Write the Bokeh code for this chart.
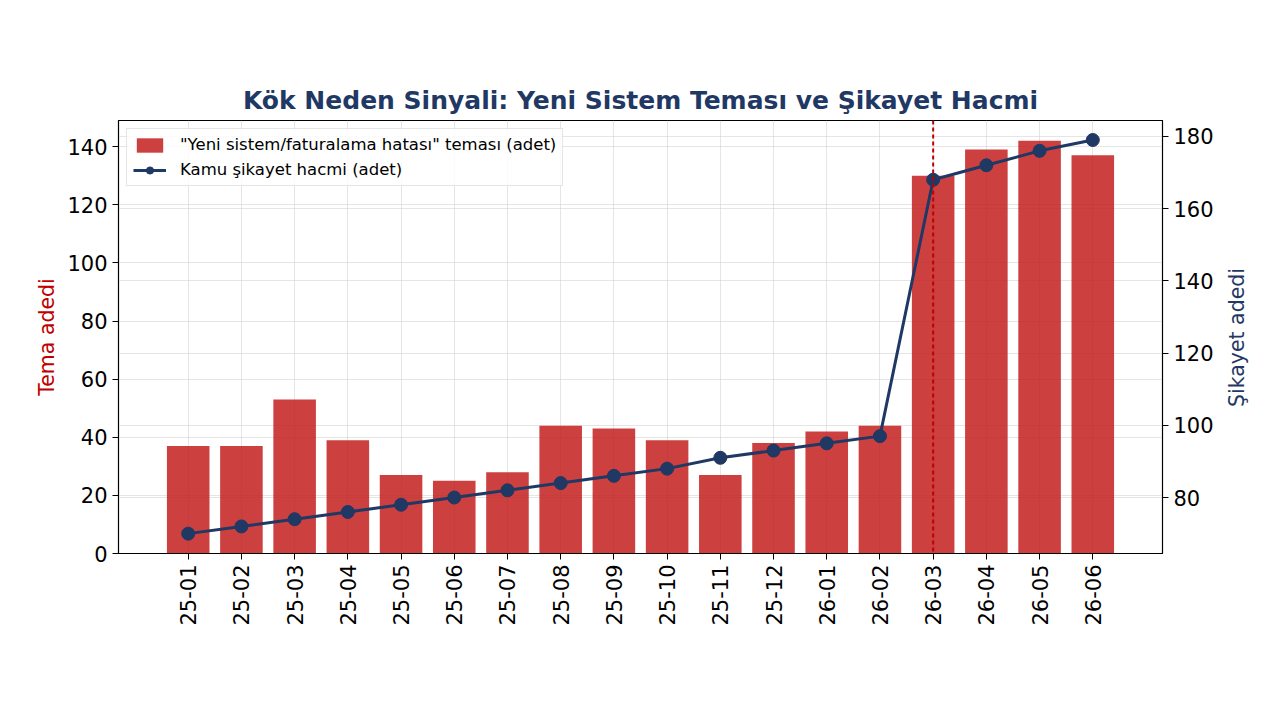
from bokeh.plotting import figure
from bokeh.layouts import row
from bokeh.models import (FactorRange, Range1d, LinearAxis, SingleIntervalTicker, Grid,
                          Legend, LegendItem, Span, ColumnDataSource, Div)
from bokeh.embed import file_html
from bokeh.resources import INLINE

months = ["25-01", "25-02", "25-03", "25-04", "25-05", "25-06", "25-07", "25-08", "25-09",
          "25-10", "25-11", "25-12", "26-01", "26-02", "26-03", "26-04", "26-05", "26-06"]
tema = [37, 37, 53, 39, 27, 25, 28, 44, 43, 39, 27, 38, 42, 44, 130, 139, 142, 137]
sikayet = [70, 72, 74, 76, 78, 80, 82, 84, 86, 88, 91, 93, 95, 97, 168, 172, 176, 179]
marker_month = "26-03"

FONT = "DejaVu Sans"
NAVY = "#1f3864"
RED = "#c41e1e"

src = ColumnDataSource(dict(m=months, tema=tema, sik=sikayet))

p = figure(width=1220, height=720, output_backend="svg", toolbar_location=None,
           x_range=FactorRange(factors=months, range_padding=0.09),
           y_range=Range1d(0, 149),
           min_border_left=118, min_border_right=58, min_border_top=120, min_border_bottom=167)
p.extra_y_ranges = {"right": Range1d(64.5, 184.4)}

p.title.text = "Kök Neden Sinyali: Yeni Sistem Teması ve Şikayet Hacmi"
p.title.align = "center"
p.title.text_font = FONT
p.title.text_font_size = "25px"
p.title.text_font_style = "bold"
p.title.text_color = NAVY
p.title.standoff = 11

p.outline_line_color = "black"
p.outline_line_width = 1.2

bars = p.vbar(x="m", top="tema", width=0.8, source=src, fill_color=RED, fill_alpha=0.85,
              line_color=None)
ln = p.line(x="m", y="sik", source=src, y_range_name="right", line_color=NAVY, line_width=3)
pts = p.scatter(x="m", y="sik", source=src, y_range_name="right", size=13, fill_color=NAVY,
                line_color=NAVY)

span = Span(location=months.index(marker_month) + 0.5, dimension="height", line_color="#c00000",
            line_dash="4 3", line_width=2)
p.add_layout(span)

la = p.yaxis[0]
la.ticker = SingleIntervalTicker(interval=20)
la.axis_label = "Tema adedi"
la.axis_label_text_color = "#c00000"

ra = LinearAxis(y_range_name="right", ticker=SingleIntervalTicker(interval=20))
p.add_layout(ra, "right")

for ax in [la, ra, p.xaxis[0]]:
    ax.major_label_text_font = FONT
    ax.major_label_text_font_size = "21px"
    ax.major_label_text_color = "black"
    ax.axis_label_text_font = FONT
    ax.axis_label_text_font_size = "20.5px"
    ax.axis_label_text_font_style = "normal"
    ax.minor_tick_line_color = None
    ax.major_tick_out = 6
    ax.major_tick_in = 0
    ax.axis_line_color = "black"
    ax.major_tick_line_color = "black"
    ax.major_label_standoff = 5

p.xaxis.major_label_orientation = 1.5708

p.xgrid.grid_line_color = "#d0d0d0"
p.xgrid.grid_line_alpha = 0.55
p.ygrid.grid_line_color = "#d0d0d0"
p.ygrid.grid_line_alpha = 0.55
g2 = Grid(dimension=1, ticker=ra.ticker, y_range_name="right", grid_line_color="#d0d0d0",
          grid_line_alpha=0.55)
p.add_layout(g2)

legend = Legend(items=[
    LegendItem(label='"Yeni sistem/faturalama hatası" teması (adet)', renderers=[bars]),
    LegendItem(label="Kamu şikayet hacmi (adet)", renderers=[ln, pts]),
], location="top_left")
legend.label_text_font = FONT
legend.label_text_font_size = "16.5px"
legend.label_text_color = "black"
legend.border_line_color = "#cccccc"
legend.border_line_width = 1.2
legend.background_fill_alpha = 0.85
legend.glyph_width = 33
legend.glyph_height = 18
legend.spacing = 6
legend.padding = 6
legend.margin = 8
legend.label_standoff = 14
p.add_layout(legend)

# right axis title, reading bottom-to-top
right_title = Div(
    text=('<div style="width:60px;height:720px;display:flex;align-items:center;'
          'justify-content:flex-start;box-sizing:border-box;padding-bottom:56px;padding-left:0px;">'
          '<div style="writing-mode:vertical-rl;transform:rotate(180deg);white-space:nowrap;'
          f'font-family:\'{FONT}\';font-size:20.5px;line-height:24px;color:{NAVY};">'
          'Şikayet adedi</div></div>'),
    width=60, height=720)

layout = row(p, right_title, spacing=0)

open("out.html", "w").write(file_html(layout, INLINE))
